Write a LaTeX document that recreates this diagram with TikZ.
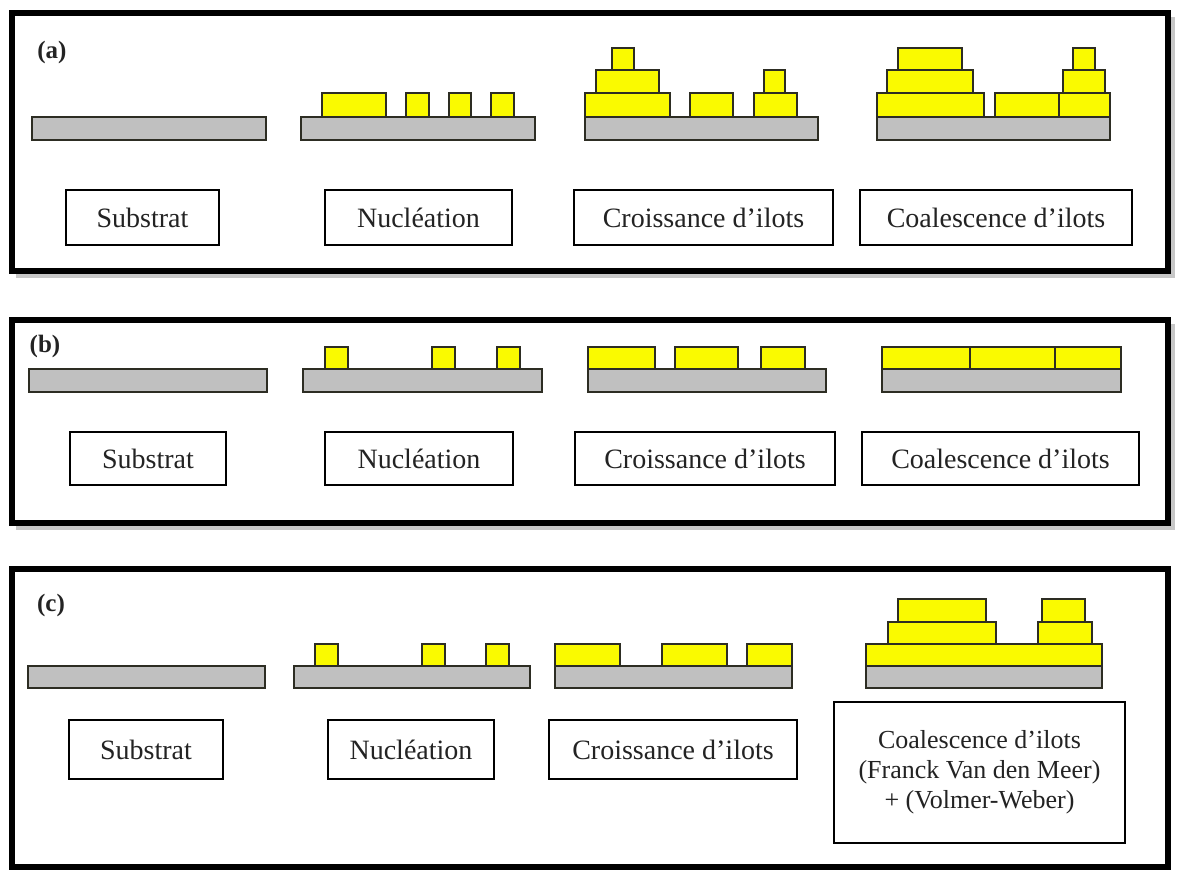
\documentclass[tikz,border=0pt]{standalone}
\usepackage{fontspec}
\setmainfont{Liberation Serif}
\definecolor{subgray}{RGB}{192,192,192}
\definecolor{islyellow}{RGB}{250,250,0}
\definecolor{edge}{RGB}{45,45,35}
\definecolor{ink}{RGB}{35,35,35}
% caption box: name, x1, y1, x2, y2, text
\newcommand\capnode[6]{%
  \node[capbox, minimum width={(#4-#2)*1pt}, minimum height={(#5-#3)*1pt}]
    (#1) at ({(#2+#4)/2},{(#3+#5)/2}) {#6};}
\begin{document}
\begin{tikzpicture}[x=1pt,y=-1pt,
  frame/.style={draw=black, line width=6pt, line join=miter},
  shadow/.style={draw=black!22, line width=5pt},
  substr/.style={draw=edge, fill=subgray, line width=1.3pt},
  island/.style={draw=edge, fill=islyellow, line width=1.3pt},
  capbox/.style={draw=black, line width=1.4pt, fill=white, inner sep=0pt,
    text=ink, font=\fontsize{28}{30}\selectfont},
  paneltag/.style={text=ink, font=\fontsize{25}{27}\selectfont\bfseries, inner sep=0pt}]
\useasboundingbox (0,0) rectangle (1181,872);
\fill[white] (0,0) rectangle (1181,872);

% ---------- panel frames ----------
\draw[shadow] (16,275) -- (1172,275) -- (1172,17);
\draw[shadow] (16,527) -- (1172,527) -- (1172,324);
\draw[frame] (12,13) rectangle (1168,271);
\draw[frame] (12,320) rectangle (1168,523);
\draw[frame] (12,569) rectangle (1168,867);

% ---------- panel (a) ----------
\node[paneltag] (ta) at (52,52) {(a)};
\draw[substr] (32,117) rectangle (266,140);

\draw[substr] (301,117) rectangle (535,140);
\draw[island] (322,93) rectangle (386,117);
\draw[island] (406,93) rectangle (429,117);
\draw[island] (449,93) rectangle (471,117);
\draw[island] (491,93) rectangle (514,117);

\draw[substr] (585,117) rectangle (818,140);
\draw[island] (585,93) rectangle (670,117);
\draw[island] (596,70) rectangle (659,93);
\draw[island] (612,48) rectangle (634,70);
\draw[island] (690,93) rectangle (733,117);
\draw[island] (754,93) rectangle (797,117);
\draw[island] (764,70) rectangle (785,93);

\draw[substr] (877,117) rectangle (1110,140);
\draw[island] (877,93) rectangle (984,117);
\draw[island] (887,70) rectangle (973,93);
\draw[island] (898,48) rectangle (962,70);
\draw[island] (995,93) rectangle (1059,117);
\draw[island] (1059,93) rectangle (1110,117);
\draw[island] (1063,70) rectangle (1105,93);
\draw[island] (1073,48) rectangle (1095,70);

\capnode{a1}{66}{190}{219}{245}{Substrat}
\capnode{a2}{325}{190}{512}{245}{Nucléation}
\capnode{a3}{574}{190}{833}{245}{Croissance d’ilots}
\capnode{a4}{860}{190}{1132}{245}{Coalescence d’ilots}

% ---------- panel (b) ----------
\node[paneltag] (tb) at (45,346) {(b)};
\draw[substr] (29,369) rectangle (267,392);

\draw[substr] (303,369) rectangle (542,392);
\draw[island] (325,347) rectangle (348,369);
\draw[island] (432,347) rectangle (455,369);
\draw[island] (497,347) rectangle (520,369);

\draw[substr] (588,369) rectangle (826,392);
\draw[island] (588,347) rectangle (655,369);
\draw[island] (675,347) rectangle (738,369);
\draw[island] (761,347) rectangle (805,369);

\draw[substr] (882,369) rectangle (1121,392);
\draw[island] (882,347) rectangle (970,369);
\draw[island] (970,347) rectangle (1055,369);
\draw[island] (1055,347) rectangle (1121,369);

\capnode{b1}{70}{432}{226}{485}{Substrat}
\capnode{b2}{325}{432}{513}{485}{Nucléation}
\capnode{b3}{575}{432}{835}{485}{Croissance d’ilots}
\capnode{b4}{862}{432}{1139}{485}{Coalescence d’ilots}

% ---------- panel (c) ----------
\node[paneltag] (tc) at (51,605) {(c)};
\draw[substr] (28,666) rectangle (265,688);

\draw[substr] (294,666) rectangle (530,688);
\draw[island] (315,644) rectangle (338,666);
\draw[island] (422,644) rectangle (445,666);
\draw[island] (486,644) rectangle (509,666);

\draw[substr] (555,666) rectangle (792,688);
\draw[island] (555,644) rectangle (620,666);
\draw[island] (662,644) rectangle (727,666);
\draw[island] (747,644) rectangle (792,666);

\draw[substr] (866,666) rectangle (1102,688);
\draw[island] (866,644) rectangle (1102,666);
\draw[island] (888,622) rectangle (996,644);
\draw[island] (898,599) rectangle (986,622);
\draw[island] (1038,622) rectangle (1092,644);
\draw[island] (1042,599) rectangle (1085,622);

\capnode{c1}{69}{720}{223}{779}{Substrat}
\capnode{c2}{328}{720}{494}{779}{Nucléation}
\capnode{c3}{549}{720}{797}{779}{Croissance d’ilots}
\capnode{c4}{834}{702}{1125}{843}{\fontsize{26}{30}\selectfont
  \begin{tabular}{@{}c@{}}Coalescence d'ilots\\(Franck Van den Meer)\\+ (Volmer-Weber)\end{tabular}}
\end{tikzpicture}
\end{document}
